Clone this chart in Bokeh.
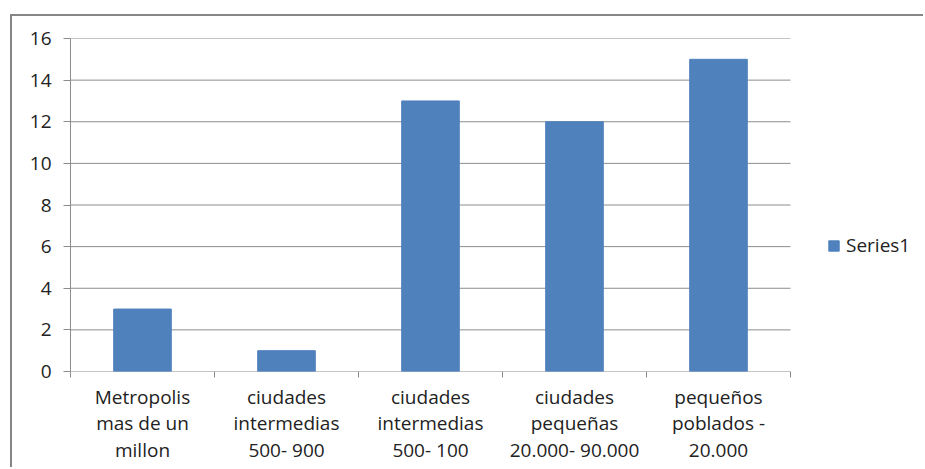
from bokeh.plotting import figure
from bokeh.models import ColumnDataSource, Range1d, FixedTicker, Legend, LegendItem
from bokeh.embed import file_html
from bokeh.resources import INLINE

categories = [
    "Metropolis\nmas de un\nmillon",
    "ciudades\nintermedias\n500- 900",
    "ciudades\nintermedias\n500- 100",
    "ciudades\npequeñas\n20.000- 90.000",
    "pequeños\npoblados -\n20.000",
]
series1 = [3, 1, 13, 12, 15]
y_ticks = [0, 2, 4, 6, 8, 10, 12, 14, 16]

FONT = "Open Sans"
TEXT = "#222222"
GRID = "#8c8c8c"
BAR = "#4F81BD"

n = len(categories)
xpos = [i + 0.5 for i in range(n)]
src = ColumnDataSource(dict(x=xpos, top=series1, cat=categories))
grid_src = ColumnDataSource(dict(x0=[0] * len(y_ticks), x1=[n] * len(y_ticks), y=y_ticks))

# plot area spans 720 px for the categories; the frame continues to the right edge
# (855 px) so that the legend can sit to the right of the plot area
p = figure(width=913, height=453, output_backend="svg", toolbar_location=None,
           x_range=Range1d(0, n * 855 / 720), y_range=Range1d(0, 16),
           min_border_left=58, min_border_right=0, min_border_top=22, min_border_bottom=98)
p.margin = (14, 0, 0, 10)
p.styles = {"border-top": "2px solid #868686", "border-left": "2px solid #868686"}
p.outline_line_color = None
p.background_fill_color = "white"
p.border_fill_color = "white"

# horizontal gridlines limited to the category area
p.segment(x0="x0", x1="x1", y0="y", y1="y", source=grid_src, line_color=GRID, line_width=1)

r = p.vbar(x="x", top="top", bottom=0, width=0.4, source=src,
           fill_color=BAR, line_color=BAR)

# y axis
ya = p.yaxis[0]
ya.ticker = FixedTicker(ticks=y_ticks)
ya.axis_line_color = GRID
ya.major_tick_line_color = GRID
ya.major_tick_out = 7
ya.major_tick_in = 0
ya.minor_tick_line_color = None
ya.major_label_standoff = 12
ya.major_label_text_font = FONT
ya.major_label_text_font_size = "19px"
ya.major_label_text_color = TEXT

# x axis: labels at centers, ticks at category boundaries
xa = p.xaxis[0]
xa.ticker = FixedTicker(ticks=xpos, minor_ticks=list(range(n + 1)))
xa.major_label_overrides = {x: c for x, c in zip(xpos, categories)}
xa.axis_line_color = None
xa.major_tick_line_color = None
xa.minor_tick_line_color = GRID
xa.minor_tick_out = 6
xa.minor_tick_in = 0
xa.major_label_standoff = 6
xa.major_label_text_font = FONT
xa.major_label_text_font_size = "19px"
xa.major_label_text_color = TEXT
xa.major_label_text_line_height = 1.02

p.xgrid.grid_line_color = None
p.ygrid.grid_line_color = None

legend = Legend(items=[LegendItem(label="Series1", renderers=[r])],
                location=(757, 113), padding=0, margin=0, spacing=0,
                glyph_width=13, glyph_height=13, label_standoff=6,
                border_line_color=None, background_fill_alpha=0,
                label_text_font=FONT, label_text_font_size="19px",
                label_text_color=TEXT)
p.add_layout(legend)

open("out.html", "w").write(file_html(p, INLINE))
